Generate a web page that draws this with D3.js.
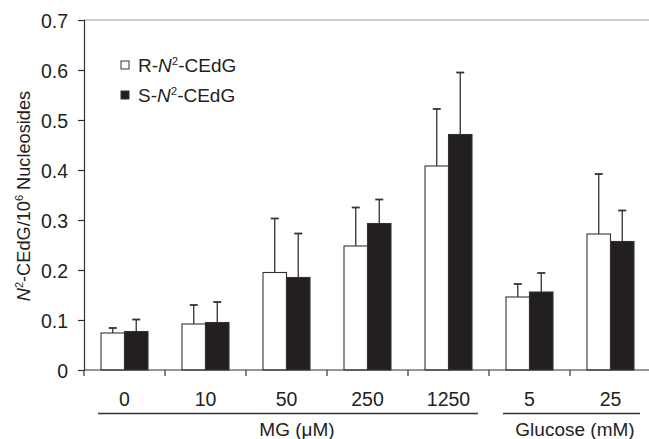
<!DOCTYPE html>
<html>
<head>
<meta charset="utf-8">
<script src="https://cdn.jsdelivr.net/npm/d3@7"></script>
<style>
  body { margin: 0; background: #fff; }
  text { font-family: "Liberation Sans", Arial, sans-serif; fill: #231f20; }
</style>
</head>
<body>
<svg id="chart" width="649" height="439"></svg>
<script>
// values
const categories = ["0", "10", "50", "250", "1250", "5", "25"];
const rValues = [0.074, 0.092, 0.195, 0.248, 0.408, 0.146, 0.272];
const sValues = [0.077, 0.095, 0.185, 0.293, 0.471, 0.156, 0.257];
const rErrors = [0.010, 0.038, 0.108, 0.077, 0.114, 0.026, 0.120];
const sErrors = [0.024, 0.041, 0.088, 0.048, 0.124, 0.038, 0.062];
const yTicks = [0, 0.1, 0.2, 0.3, 0.4, 0.5, 0.6, 0.7];
const groups = [
    { label: "MG (\u03bcM)", from: "0", to: "1250" },
    { label: "Glucose (mM)", from: "5", to: "25" }
];

const svg = d3.select("#chart");
const ink = "#231f20";

const x = d3.scaleBand()
    .domain(categories)
    .range([84, 84 + 81 * categories.length]);

const xSub = d3.scaleBand()
    .domain(["R", "S"])
    .range([17, 64]);

const y = d3.scaleLinear()
    .domain([0, 0.7])
    .range([370, 20]);

// top border line
svg.append("line")
    .attr("x1", 84).attr("x2", 649)
    .attr("y1", y(0.7)).attr("y2", y(0.7))
    .attr("stroke", "#999").attr("stroke-width", 1.2);

const rows = categories.map((c, i) => [
    { cat: c, key: "R", v: rValues[i], e: rErrors[i] },
    { cat: c, key: "S", v: sValues[i], e: sErrors[i] }
]).flat();

// error bars first so bars cover their base
const err = svg.append("g").attr("stroke", "#333").attr("stroke-width", 1.3);
rows.forEach(d => {
    const cx = x(d.cat) + xSub(d.key) + xSub.bandwidth() / 2;
    err.append("line")
        .attr("x1", cx).attr("x2", cx)
        .attr("y1", y(d.v)).attr("y2", y(d.v + d.e));
    err.append("line")
        .attr("x1", cx - 4).attr("x2", cx + 4)
        .attr("y1", y(d.v + d.e)).attr("y2", y(d.v + d.e))
        .attr("stroke-width", 1.8);
});

svg.append("g")
    .selectAll("rect")
    .data(rows)
    .join("rect")
    .attr("x", d => x(d.cat) + xSub(d.key))
    .attr("y", d => y(d.v))
    .attr("width", xSub.bandwidth())
    .attr("height", d => y(0) - y(d.v))
    .attr("fill", d => d.key === "R" ? "#fff" : ink)
    .attr("stroke", "#333")
    .attr("stroke-width", 1.1);

// y axis
const yAxis = svg.append("g")
    .attr("transform", "translate(84,0)")
    .call(d3.axisLeft(y).tickValues(yTicks).tickSize(6).tickPadding(10)
        .tickFormat(d => d === 0 ? "0" : d3.format(".1f")(d)));
yAxis.selectAll("text").attr("font-size", 19.5).attr("dy", "0.36em");
yAxis.selectAll("line,path").attr("stroke", "#333").attr("stroke-width", 1.2);

// x axis
const xAxis = svg.append("g")
    .attr("transform", `translate(0,${y(0)})`)
    .call(d3.axisBottom(x).tickSize(0).tickFormat(""));
xAxis.select("path").attr("stroke", "#333").attr("stroke-width", 1.2).attr("d", "M84,0H649");
xAxis.selectAll(".tick").remove();
xAxis.selectAll("line.bound")
    .data(categories)
    .join("line")
    .attr("x1", d => x(d)).attr("x2", d => x(d))
    .attr("y1", 0).attr("y2", 6)
    .attr("stroke", "#333").attr("stroke-width", 1.2);

svg.append("g")
    .selectAll("text")
    .data(categories)
    .join("text")
    .attr("x", d => x(d) + x.bandwidth() / 2)
    .attr("y", 405.5)
    .attr("text-anchor", "middle")
    .attr("font-size", 19.5)
    .text(d => d);

// group underline and labels
groups.forEach(g => {
    const x1 = x(g.from) + 14, x2 = x(g.to) + x.bandwidth() - 11;
    svg.append("line")
        .attr("x1", x1).attr("x2", x2)
        .attr("y1", 413.5).attr("y2", 413.5)
        .attr("stroke", "#333").attr("stroke-width", 1.3);
    svg.append("text")
        .attr("x", g.from === "0" ? 297 : 575)
        .attr("y", 436)
        .attr("text-anchor", "middle")
        .attr("font-size", 19)
        .text(g.label);
});

// y axis title
const title = svg.append("text")
    .attr("transform", "translate(30,196) rotate(-90)")
    .attr("text-anchor", "middle")
    .attr("font-size", 18.2);
title.append("tspan").attr("font-style", "italic").text("N");
title.append("tspan").attr("font-size", 11).attr("dy", -7).text("2");
title.append("tspan").attr("dy", 7).text("-CEdG/10");
title.append("tspan").attr("font-size", 11).attr("dy", -7).text("6");
title.append("tspan").attr("dy", 7).text(" Nucleosides");

// legend
const legendItems = [
    { key: "R", prefix: "R-", y: 65 },
    { key: "S", prefix: "S-", y: 95 }
];
legendItems.forEach(d => {
    svg.append("rect")
        .attr("x", 121).attr("y", d.y - 4)
        .attr("width", 8).attr("height", 8)
        .attr("fill", d.key === "R" ? "#fff" : ink)
        .attr("stroke", "#333").attr("stroke-width", 1);
    const t = svg.append("text")
        .attr("x", 138).attr("y", d.y + 7)
        .attr("font-size", 19);
    t.append("tspan").text(d.prefix);
    t.append("tspan").attr("font-style", "italic").text("N");
    t.append("tspan").attr("font-size", 11.5).attr("dy", -7).text("2");
    t.append("tspan").attr("dy", 7).text("-CEdG");
});
</script>
</body>
</html>
